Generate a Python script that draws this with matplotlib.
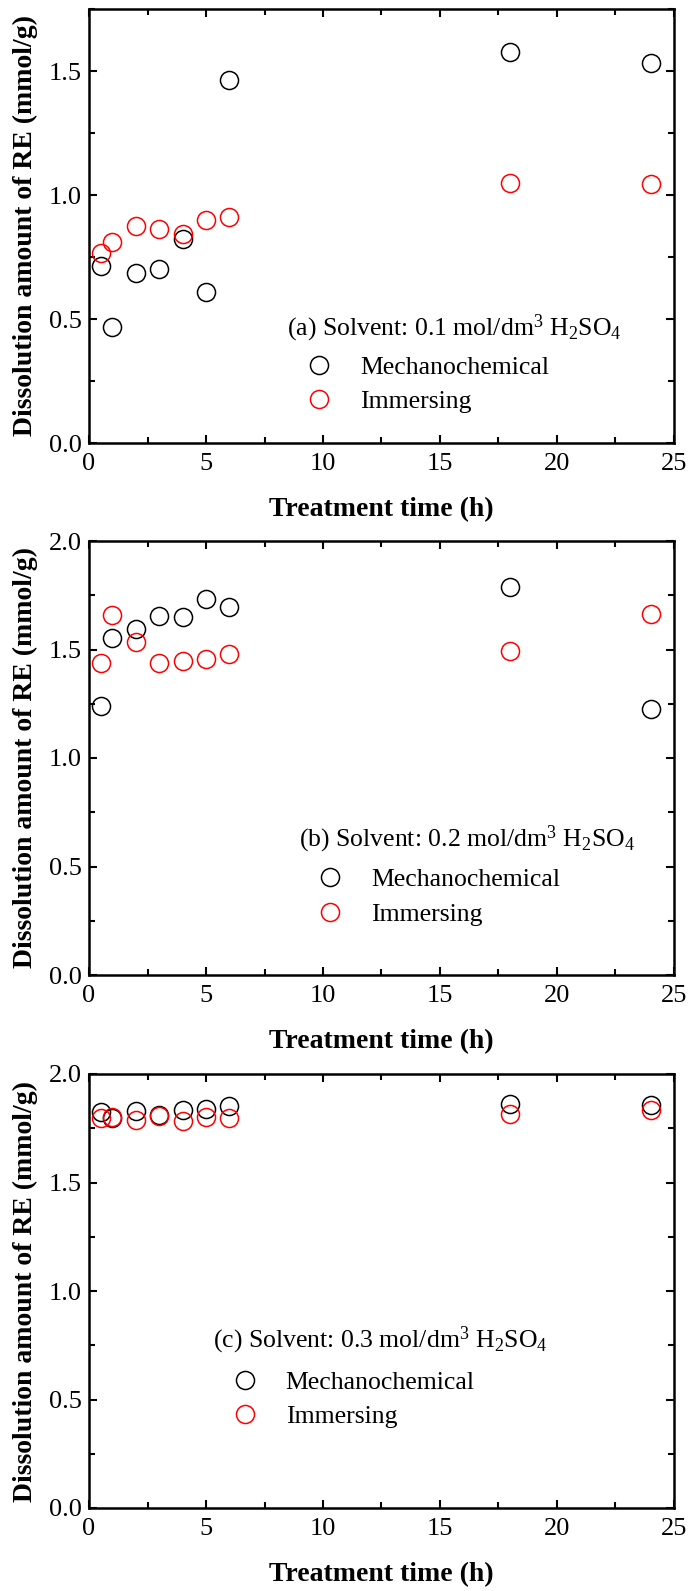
import matplotlib
matplotlib.use("Agg")
import matplotlib.pyplot as plt
from matplotlib.ticker import MultipleLocator

plt.rcParams["font.family"] = ["Liberation Serif", "DejaVu Serif"]
plt.rcParams["mathtext.fontset"] = "custom"
plt.rcParams["mathtext.rm"] = "Liberation Serif"
plt.rcParams["mathtext.default"] = "regular"

# treatment times (h)
time_h = [0.5, 1, 2, 3, 4, 5, 6, 18, 24]

# dissolved RE (mmol/g), one pair of series per acid concentration
mech_01 = [0.712, 0.469, 0.687, 0.701, 0.824, 0.608, 1.462, 1.578, 1.534]
imm_01 = [0.765, 0.809, 0.874, 0.861, 0.844, 0.898, 0.911, 1.048, 1.044]

mech_02 = [1.239, 1.553, 1.596, 1.656, 1.650, 1.735, 1.694, 1.789, 1.225]
imm_02 = [1.439, 1.659, 1.534, 1.436, 1.448, 1.456, 1.480, 1.491, 1.664]

mech_03 = [1.823, 1.795, 1.831, 1.812, 1.836, 1.841, 1.852, 1.864, 1.856]
imm_03 = [1.797, 1.802, 1.789, 1.805, 1.784, 1.804, 1.797, 1.817, 1.836]

panel_titles = [
    r"(a) Solvent: 0.1 mol/dm$^3$ H$_2$SO$_4$",
    r"(b) Solvent: 0.2 mol/dm$^3$ H$_2$SO$_4$",
    r"(c) Solvent: 0.3 mol/dm$^3$ H$_2$SO$_4$",
]
series_names = ["Mechanochemical", "Immersing"]
y_tops = [1.75, 2.0, 2.0]

W, H = 691, 1591
fig = plt.figure(figsize=(W / 100, H / 100), dpi=100)

# axes boxes in pixels: (left, top, right, bottom)
boxes = [(89, 9, 674, 443), (89, 541, 674, 975), (89, 1074, 674, 1508)]
# title position / legend anchor in axes fractions
title_pos = [(0.338, 0.265), (0.359, 0.313), (0.212, 0.387)]
legend_pos = [(0.371, 0.135), (0.390, 0.180), (0.244, 0.250)]

data = [(mech_01, imm_01), (mech_02, imm_02), (mech_03, imm_03)]

for i, (mech, imm) in enumerate(data):
    l, t, r, b = boxes[i]
    ax = fig.add_axes([l / W, 1 - b / H, (r - l) / W, (b - t) / H])

    h1, = ax.plot(time_h, mech, "o", ms=13, mfc="none", mec="black",
                  mew=1.1, label=series_names[0])
    h2, = ax.plot(time_h, imm, "o", ms=13, mfc="none", mec="red",
                  mew=1.1, label=series_names[1])

    ax.set_xlim(0, 25)
    ax.set_ylim(0, y_tops[i])
    ax.xaxis.set_major_locator(MultipleLocator(5))
    ax.xaxis.set_minor_locator(MultipleLocator(2.5))
    ax.yaxis.set_major_locator(MultipleLocator(0.5))
    ax.yaxis.set_minor_locator(MultipleLocator(0.25))
    ax.yaxis.set_major_formatter(plt.FormatStrFormatter("%.1f"))

    ax.tick_params(which="both", direction="in", top=True, right=True,
                   width=1.5, labelsize=19)
    ax.tick_params(which="major", length=6)
    ax.tick_params(which="minor", length=4)
    ax.tick_params(axis="x", pad=7)
    ax.tick_params(axis="y", pad=5)
    for s in ax.spines.values():
        s.set_linewidth(1.8)

    ax.set_xlabel("Treatment time (h)", fontsize=20, fontweight="bold")
    ax.set_ylabel("Dissolution amount of RE (mmol/g)", fontsize=20,
                  fontweight="bold")
    ax.xaxis.set_label_coords(0.5, -0.125)
    ax.yaxis.set_label_coords(-0.087, 0.5)

    tx, ty = title_pos[i]
    ax.text(tx, ty, panel_titles[i], transform=ax.transAxes, fontsize=18.5,
            ha="left", va="center")

    ax.legend(handles=[h1, h2], loc="center left",
              bbox_to_anchor=legend_pos[i], frameon=False, fontsize=18.5,
              borderpad=0, borderaxespad=0, handlelength=1.0,
              handletextpad=1.1, labelspacing=0.45)

fig.savefig("out.png", dpi=100)
